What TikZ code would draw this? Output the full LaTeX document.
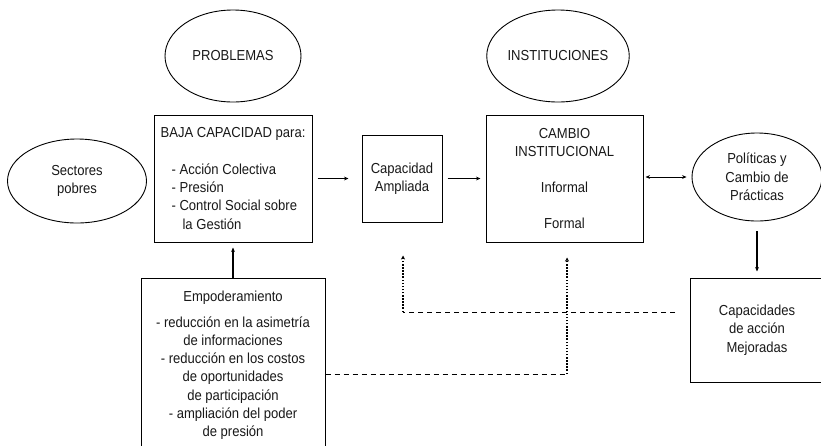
\documentclass[tikz,border=0pt]{standalone}
\usepackage{fontspec}
\setmainfont{Liberation Sans}[FakeStretch=0.9]
\usetikzlibrary{arrows.meta,shapes.geometric}
\begin{document}
\begin{tikzpicture}[x=1pt,y=-1pt,
  font=\fontsize{14.5}{18.3}\selectfont,
  box/.style={draw=black, line width=1pt, inner sep=0pt, align=center, text=black!90},
  oval/.style={ellipse, draw=black, line width=0.9pt, inner sep=0pt, align=center, text=black!90},
  arr/.style={-{Stealth[length=4.5pt,width=3.8pt]}, line width=0.8pt},
  dblarr/.style={{Stealth[length=4.5pt,width=3.8pt]}-{Stealth[length=4.5pt,width=3.8pt]}, line width=0.8pt},
  dashline/.style={dash pattern=on 5pt off 4pt, line width=0.8pt},
  dotline/.style={dash pattern=on 1.5pt off 1.6pt, line width=1.3pt, -{Stealth[length=4pt,width=4pt]}}
]
\clip (0,0) rectangle (821,445);
\fill[white] (0,0) rectangle (821,445);

\node[oval, minimum width=136pt, minimum height=92pt] (prob) at (233,56) {PROBLEMAS};
\node[oval, minimum width=137pt, minimum height=92pt] (inst) at (558,56) {INSTITUCIONES};
\node[oval, minimum width=139pt, minimum height=84pt] (sect) at (77,181) {Sectores\\pobres};

\node[box, minimum width=158pt, minimum height=127pt, align=left] (baja) at (233,178.5)
  {BAJA CAPACIDAD para:\\[18pt]
   \hspace*{11pt}- Acción Colectiva\\
   \hspace*{11pt}- Presión\\
   \hspace*{11pt}- Control Social sobre\\
   \hspace*{22pt}la Gestión};

\node[box, minimum width=80pt, minimum height=87pt] (capa) at (402,178.5) {Capacidad\\Ampliada};

\node[box, minimum width=157pt, minimum height=127pt] (camb) at (564.5,178.5)
  {CAMBIO\\INSTITUCIONAL\\[18pt]Informal\\[18pt]Formal};

\node[oval, minimum width=130pt, minimum height=88pt] (poli) at (757,177) {Políticas y\\Cambio de\\Prácticas};

\node[box, minimum width=134pt, minimum height=104pt] (mejo) at (757,330) {Capacidades\\de acción\\Mejoradas};

\node[box, minimum width=184pt, minimum height=175pt] (empo) at (233,365.5)
  {Empoderamiento\\[7pt]
   - reducción en la asimetría\\
   de informaciones\\
   - reducción en los costos\\
   de oportunidades\\
   de participación\\
   - ampliación del poder\\
   de presión};

% solid connectors
\draw[arr, line width=1.3pt, shorten >=5pt] (empo.north) -- (baja.south);
\draw[arr, shorten <=5pt, shorten >=13pt] (baja.east) -- (capa.west);
\draw[arr, shorten <=5pt, shorten >=5pt] (capa.east) -- (camb.west);
\draw[dblarr, shorten <=2pt, shorten >=5pt] (camb.east |- poli.west) -- (poli.west);
\draw[arr, line width=1.2pt, shorten <=10pt, shorten >=6pt] (poli.south) -- (mejo.north);

% feedback connectors
\coordinate (c1) at (567,374);
\coordinate (c2) at (403,312);
\coordinate (c3) at (675,312);
\draw[dashline] (empo.east |- c1) -- (c1);
\draw[dotline, shorten >=15pt] (c1) -- (camb.south -| c1);
\draw[dashline] (c3) -- (c2);
\draw[dotline, shorten >=33pt] (c2) -- (capa.south -| c2);
\end{tikzpicture}
\end{document}
